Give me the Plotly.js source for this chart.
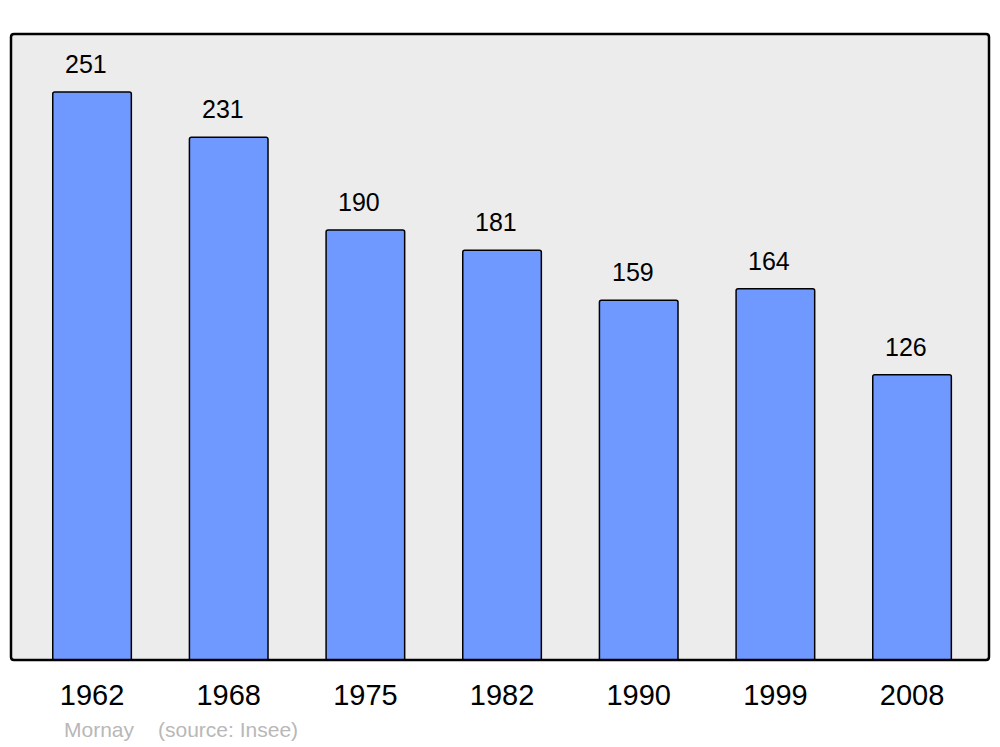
<!DOCTYPE html>
<html><head><meta charset="utf-8">
<script src="https://cdn.plot.ly/plotly-3.0.1.min.js"></script>
<style>html,body{margin:0;padding:0;background:#fff}#chart{width:1000px;height:747px}</style>
</head><body><div id="chart"></div>
<script>
const years = ["1962","1968","1975","1982","1990","1999","2008"];
const population = [251,231,190,181,159,164,126];
const townName = "Mornay";
const sourceText = "(source: Insee)";

const fontFam = "Liberation Sans, Arial, sans-serif";
const rx = 3/978, ry = 3/626;
const framePath = `M ${rx},0 L ${1-rx},0 Q 1,0 1,${ry} L 1,${1-ry} Q 1,1 ${1-rx},1 L ${rx},1 Q 0,1 0,${1-ry} L 0,${ry} Q 0,0 ${rx},0 Z`;

const annotations = years.map((y,i)=>({
  x: i, y: population[i], xref:'x', yref:'y', text: String(population[i]),
  showarrow:false, yanchor:'bottom', yshift:12, xshift:-6,
  font:{family:fontFam, size:25, color:'#000'}
}));
annotations.push({xref:'paper', yref:'paper', x:(62-11)/978, y:-(729-660)/626, xanchor:'left', yanchor:'middle',
  text: townName, showarrow:false, font:{family:fontFam, size:21, color:'#b8b8b8'}});
annotations.push({xref:'paper', yref:'paper', x:(156-11)/978, y:-(729-660)/626, xanchor:'left', yanchor:'middle',
  text: sourceText, showarrow:false, font:{family:fontFam, size:21, color:'#b8b8b8'}});

Plotly.newPlot('chart', [{
  type:'bar', x: years, y: population, width:0.575,
  marker:{color:'#7099ff', line:{color:'#000', width:1.5}, cornerradius:2},
  hoverinfo:'none'
}], {
  width:1000, height:747,
  margin:{l:11, r:11, t:34, b:87},
  paper_bgcolor:'#ffffff', plot_bgcolor:'#ececec',
  showlegend:false,
  xaxis:{type:'category', range:[-0.593, 6.563], showgrid:false, zeroline:false, showline:false,
    ticks:'', ticklabelstandoff:15, tickfont:{family:fontFam, size:29, color:'#000'}, fixedrange:true},
  yaxis:{range:[0, 276.6], showgrid:false, zeroline:false, showline:false, showticklabels:false, ticks:'', fixedrange:true},
  shapes:[{type:'path', xref:'paper', yref:'paper', path: framePath, line:{color:'#000', width:2.5}, fillcolor:'rgba(0,0,0,0)', layer:'above'}],
  annotations: annotations
}, {displayModeBar:false, staticPlot:true});
</script></body></html>
